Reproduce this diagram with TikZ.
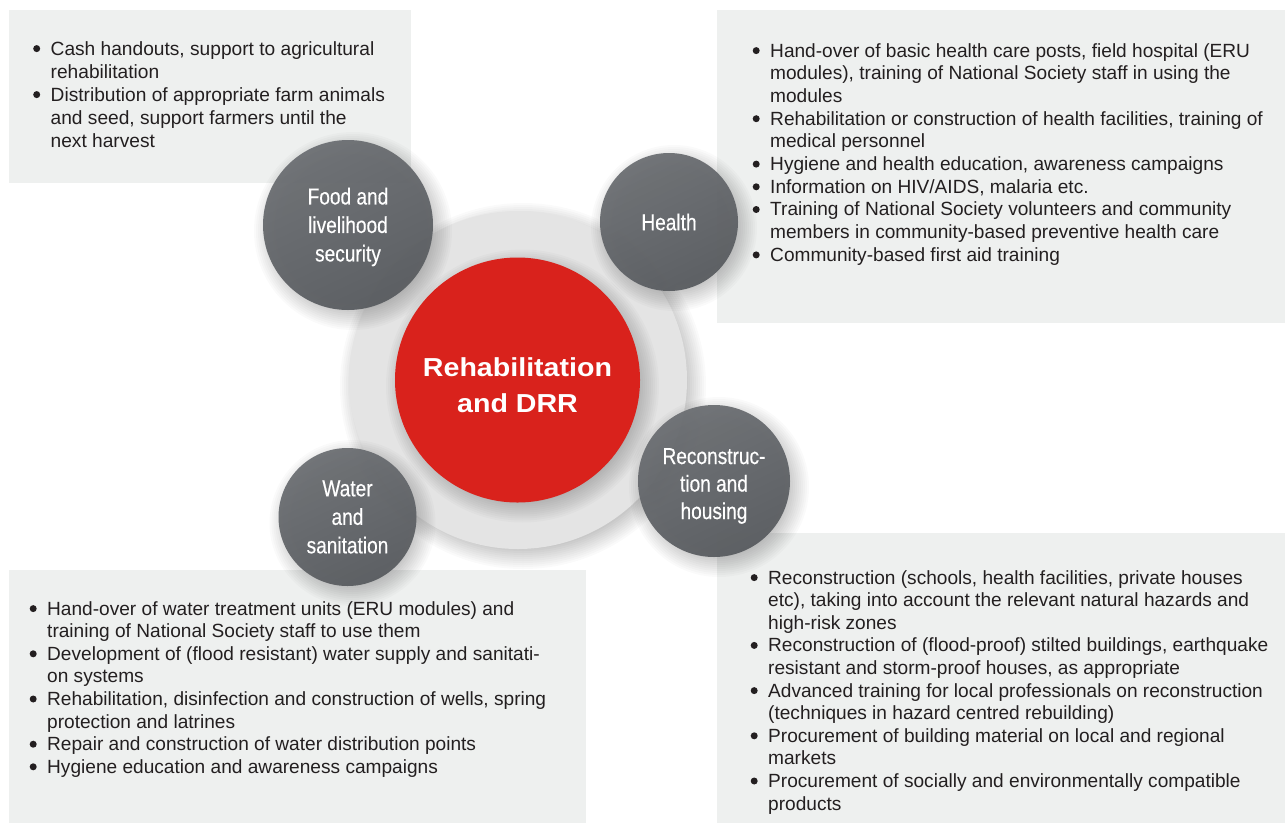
\documentclass[tikz,border=0pt]{standalone}
\usepackage{fontspec}
\setmainfont{Liberation Sans}
\newfontfamily\condfont[FakeStretch=0.83,FakeBold=0.4]{Liberation Sans}
\newfontfamily\widefont[FakeStretch=1.1]{Liberation Sans}
\definecolor{panelc}{HTML}{EEF0EF}
\definecolor{bodyc}{HTML}{231F20}
\definecolor{grayhi}{HTML}{6C6F73}
\definecolor{graylo}{HTML}{595C60}
\definecolor{ringc}{HTML}{E4E4E4}
\definecolor{redc}{HTML}{D9221C}
\newcommand\bul{\makebox[17.5pt][l]{\tikz[baseline=0pt]\fill[bodyc] (3.6pt,6.4pt) circle[radius=3.5pt];}}
\newcommand\softshadow[3]{%
  \foreach \k in {0,...,13}{\fill[black,opacity=0.02] (#1+5,#2-6) circle[radius={(#3+14-2*\k)*1pt}];}}
\tikzset{
  panel/.style={fill=panelc,draw=none},
  body/.style={inner sep=0pt,anchor=base west,text=bodyc},
  bubble/.style={circle,inner sep=0pt,draw=none,top color=grayhi,bottom color=graylo,shading angle=25,
    fill opacity=0.95},
  bubbletext/.style={inner sep=0pt,text=white,align=center,
    font=\condfont\fontsize{23}{28.5}\selectfont},
}
\begin{document}
\begin{tikzpicture}[x=1pt,y=1pt]
\useasboundingbox (0,0) rectangle (1285,-823);
\fill[white] (0,0) rectangle (1285,-823);
% panels
\fill[panel] (9,-10) rectangle (411,-183);
\fill[panel] (717,-10) rectangle (1285,-323);
\fill[panel] (9,-570) rectangle (586,-823);
\fill[panel] (717,-533) rectangle (1285,-823);
% texts
\node[body,font=\fontsize{19.15}{23}\selectfont] (tltext) at (33,-55) {\begin{tabular}[t]{@{}l@{}l@{}}
\bul & Cash handouts, support to agricultural\\
 & rehabilitation\\
\bul & Distribution of appropriate farm animals\\
 & and seed, support farmers until the\\
 & next harvest
\end{tabular}};
\node[body,font=\fontsize{19.1}{22.7}\selectfont] (trtext) at (752.5,-57) {\begin{tabular}[t]{@{}l@{}l@{}}
\bul & Hand-over of basic health care posts, field hospital (ERU\\
 & modules), training of National Society staff in using the\\
 & modules\\
\bul & Rehabilitation or construction of health facilities, training of\\
 & medical personnel\\
\bul & Hygiene and health education, awareness campaigns\\
\bul & Information on HIV/AIDS, malaria etc.\\
\bul & Training of National Society volunteers and community\\
 & members in community-based preventive health care\\
\bul & Community-based first aid training
\end{tabular}};
\node[body,font=\fontsize{19.1}{22.6}\selectfont] (bltext) at (29.5,-615) {\begin{tabular}[t]{@{}l@{}l@{}}
\bul & Hand-over of water treatment units (ERU modules) and\\
 & training of National Society staff to use them\\
\bul & Development of (flood resistant) water supply and sanitati-\\
 & on systems\\
\bul & Rehabilitation, disinfection and construction of wells, spring\\
 & protection and latrines\\
\bul & Repair and construction of water distribution points\\
\bul & Hygiene education and awareness campaigns
\end{tabular}};
\node[body,font=\fontsize{19.1}{22.6}\selectfont] (brtext) at (750.5,-584) {\begin{tabular}[t]{@{}l@{}l@{}}
\bul & Reconstruction (schools, health facilities, private houses\\
 & etc), taking into account the relevant natural hazards and\\
 & high-risk zones\\
\bul & Reconstruction of (flood-proof) stilted buildings, earthquake\\
 & resistant and storm-proof houses, as appropriate\\
\bul & Advanced training for local professionals on reconstruction\\
 & (techniques in hazard centred rebuilding)\\
\bul & Procurement of building material on local and regional\\
 & markets\\
\bul & Procurement of socially and environmentally compatible\\
 & products
\end{tabular}};
% ring and centre
\softshadow{518}{-380}{169}
\node[circle,minimum size=338pt,inner sep=0pt,fill=ringc] (ring) at (518,-380) {};
\softshadow{517.5}{-380}{122.5}
\node[circle,minimum size=245pt,inner sep=0pt,fill=redc] (core) at (517.5,-380) {};
\node[inner sep=0pt,text=white,align=center,
  font=\widefont\bfseries\fontsize{26}{35.5}\selectfont] (coretext) at (517.5,-385) {Rehabilitation\\and DRR};
% bubbles
\softshadow{348}{-225}{85}
\node[bubble,minimum size=170pt] (food) at (348,-225) {};
\node[bubbletext] (foodtext) at (348,-227) {Food and\\livelihood\\security};
\softshadow{669}{-222}{69}
\node[bubble,minimum size=138pt] (health) at (669,-222) {};
\node[bubbletext] (healthtext) at (669,-222) {Health};
\softshadow{347.5}{-517}{69}
\node[bubble,minimum size=138pt] (water) at (347.5,-517) {};
\node[bubbletext] (watertext) at (347.5,-517) {Water\\and\\sanitation};
\softshadow{714}{-481}{76}
\node[bubble,minimum size=152pt] (recon) at (714,-481) {};
\node[bubbletext,font=\condfont\fontsize{23}{27.5}\selectfont] (recontext) at (714,-486) {Reconstruc-\\tion and\\housing};
\end{tikzpicture}
\end{document}
